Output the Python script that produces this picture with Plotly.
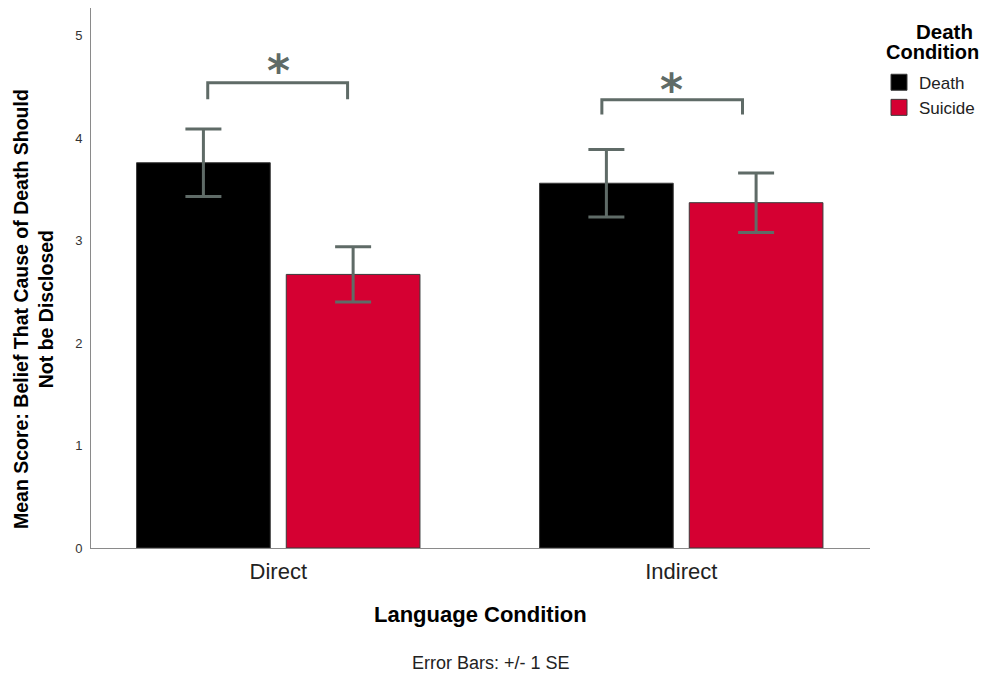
import plotly.graph_objects as go

# ---- data ----
categories = ["Direct", "Indirect"]
cat_pos = [0, 1]
death_means = [3.76, 3.56]
death_se = [0.33, 0.33]
suicide_means = [2.67, 3.37]
suicide_se = [0.27, 0.29]
series_names = ["Death", "Suicide"]
y_ticks = [0, 1, 2, 3, 4, 5]

# significance brackets (data coords): x0, x1, top y, end y, star y, star x
bracket_x0 = [-0.175, 0.803]
bracket_x1 = [0.172, 1.152]
bracket_top = [4.54, 4.375]
bracket_end = [4.38, 4.23]
star_x = [0.0, 0.977]
star_y = [4.74, 4.55]

BLACK = "#000000"
RED = "#D50032"
GRAY = "#5F6B67"
FONT = "Liberation Sans"

fig = go.Figure()
for name, means, se, col in [(series_names[0], death_means, death_se, BLACK),
                             (series_names[1], suicide_means, suicide_se, RED)]:
    fig.add_trace(go.Bar(
        x=cat_pos, y=means, name=name, showlegend=False,
        marker=dict(color=col, line=dict(color="#3a3a3a", width=1)),
        error_y=dict(type="data", array=se, visible=True, color=GRAY,
                     thickness=3, width=18),
    ))
    fig.add_trace(go.Scatter(
        x=[None], y=[None], mode="markers", name=name,
        marker=dict(symbol="square", size=16, color=col,
                    line=dict(color="#3a3a3a", width=1)),
    ))

for i in range(len(bracket_x0)):
    x0, x1, yt, ye = bracket_x0[i], bracket_x1[i], bracket_top[i], bracket_end[i]
    fig.add_shape(type="path", xref="x", yref="y",
                  path=f"M {x0},{ye} L {x0},{yt} L {x1},{yt} L {x1},{ye}",
                  line=dict(color=GRAY, width=3))
    fig.add_annotation(x=star_x[i], y=star_y[i], xref="x", yref="y",
                       text="<b>*</b>", showarrow=False, yshift=-8,
                       font=dict(family="DejaVu Sans", size=44, color=GRAY))

fig.add_annotation(text="<b>Mean Score: Belief That Cause of Death Should<br>Not be Disclosed</b>",
                   xref="paper", yref="paper", x=-0.0731, y=0.4426,
                   xanchor="center", yanchor="middle", textangle=-90,
                   showarrow=False, font=dict(family=FONT, size=19.5, color="#000"))
fig.add_annotation(text="<b>Language Condition</b>", xref="paper", yref="paper",
                   x=0.5, y=-0.124, xanchor="center", yanchor="middle",
                   showarrow=False, font=dict(family=FONT, size=22, color="#000"))
fig.add_annotation(text="Error Bars: +/- 1 SE", xref="paper", yref="paper",
                   x=0.514, y=-0.213, xanchor="center", yanchor="middle",
                   showarrow=False, font=dict(family=FONT, size=18, color="#222"))
# legend title (two tight lines)
fig.add_annotation(text="<b>Death</b>", xref="paper", yref="paper",
                   x=1.0955, y=0.9556, xanchor="center", yanchor="middle",
                   showarrow=False, font=dict(family=FONT, size=20.5, color="#000"))
fig.add_annotation(text="<b>Condition</b>", xref="paper", yref="paper",
                   x=1.0800, y=0.9185, xanchor="center", yanchor="middle",
                   showarrow=False, font=dict(family=FONT, size=20, color="#000"))

fig.update_layout(
    width=972, height=667,
    margin=dict(l=83, r=109, t=0, b=127),
    plot_bgcolor="white", paper_bgcolor="white",
    barmode="group", bargap=0.257, bargroupgap=0.107,
    font=dict(family=FONT, color="#222"),
    legend=dict(x=1.012, y=0.895, xanchor="left", yanchor="top",
                font=dict(family=FONT, size=17, color="#222"),
                itemwidth=30, tracegroupgap=0),
    xaxis=dict(range=[-0.4647, 1.4684], tickvals=cat_pos, ticktext=categories,
               showgrid=False, zeroline=False, showline=True, linecolor="#8a8a8a",
               linewidth=1, ticks="outside", ticklen=4, tickcolor="rgba(0,0,0,0)",
               tickfont=dict(family=FONT, size=22, color="#222")),
    yaxis=dict(range=[0, 5.27], tickvals=y_ticks, showgrid=False, zeroline=False,
               showline=True, linecolor="#8a8a8a", linewidth=1,
               ticks="outside", ticklen=5, tickcolor="rgba(0,0,0,0)",
               tickfont=dict(family=FONT, size=13, color="#333")),
)

fig.write_html("out.html")
